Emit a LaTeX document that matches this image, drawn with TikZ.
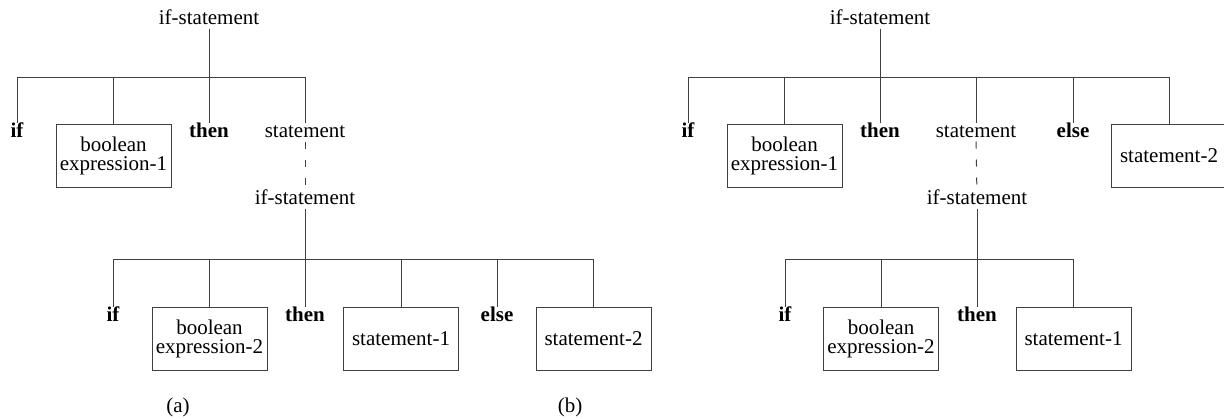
\documentclass[tikz,border=0pt]{standalone}
\usepackage{fontspec}
\setmainfont{Liberation Serif}
\begin{document}
\begin{tikzpicture}[x=1pt,y=-1pt,line width=1pt,draw=black!75,
    every node/.style={font=\fontsize{21}{19}\selectfont,inner sep=0pt},
    word/.style={text height=14pt,text depth=4pt,anchor=base},
    key/.style={word,font=\fontsize{21}{19}\selectfont\bfseries},
    leafbox/.style={draw=black!75,minimum width=115pt,minimum height=63pt,align=center,anchor=north},
    link/.style={dash pattern=on 7pt off 11pt}]
                \useasboundingbox (0,0) rectangle (1224,418);
                %% tree (a)
                \node[word] (ra) at (209,24) {if-statement};
                \coordinate (ja) at (209,77);
                \node[key] (ifa) at (17,137) {if};
                \node[leafbox] (ba) at (113.5,124) {boolean\\expression-1};
                \node[key] (tha) at (209,137) {then};
                \node[word] (sa) at (305,137) {statement};
                \node[word] (rsa) at (305,204) {if-statement};
                \coordinate (jsa) at (305,259);
                \node[key] (ifsa) at (113,321) {if};
                \node[leafbox] (bsa) at (209.5,307) {boolean\\expression-2};
                \node[key] (thsa) at (305,321) {then};
                \node[leafbox] (s1a) at (401,307) {statement-1};
                \node[key] (elsa) at (497,321) {else};
                \node[leafbox] (s2a) at (593.5,307) {statement-2};
                \draw (ra) -- (ja);
                \foreach \n in {ifa,ba,tha,sa} \draw (ja) -| (\n.north);
                \draw[link] (sa) -- (rsa);
                \draw (rsa) -- (jsa);
                \foreach \n in {ifsa,bsa,thsa,s1a,elsa,s2a} \draw (jsa) -| (\n.north);
                %% tree (b)
                \node[word] (rb) at (880,24) {if-statement};
                \coordinate (jb) at (880,77);
                \node[key] (ifb) at (688,137) {if};
                \node[leafbox] (bb) at (784.5,124) {boolean\\expression-1};
                \node[key] (thb) at (880,137) {then};
                \node[word] (sb) at (976,137) {statement};
                \node[key] (elb) at (1073,137) {else};
                \node[leafbox] (s2b) at (1169,124) {statement-2};
                \node[word] (rsb) at (977,204) {if-statement};
                \coordinate (jsb) at (977,259);
                \node[key] (ifsb) at (785,321) {if};
                \node[leafbox] (bsb) at (881,307) {boolean\\expression-2};
                \node[key] (thsb) at (977,321) {then};
                \node[leafbox] (s1b) at (1073.5,307) {statement-1};
                \draw (rb) -- (jb);
                \foreach \n in {ifb,bb,thb,sb,elb,s2b} \draw (jb) -| (\n.north);
                \draw[link] (sb) -- (rsb);
                \draw (rsb) -- (jsb);
                \foreach \n in {ifsb,bsb,thsb,s1b} \draw (jsb) -| (\n.north);
                %% captions
                \node[word] (capa) at (178,412) {(a)};
                \node[word] (capb) at (570,412) {(b)};
            \end{tikzpicture}
\end{document}
